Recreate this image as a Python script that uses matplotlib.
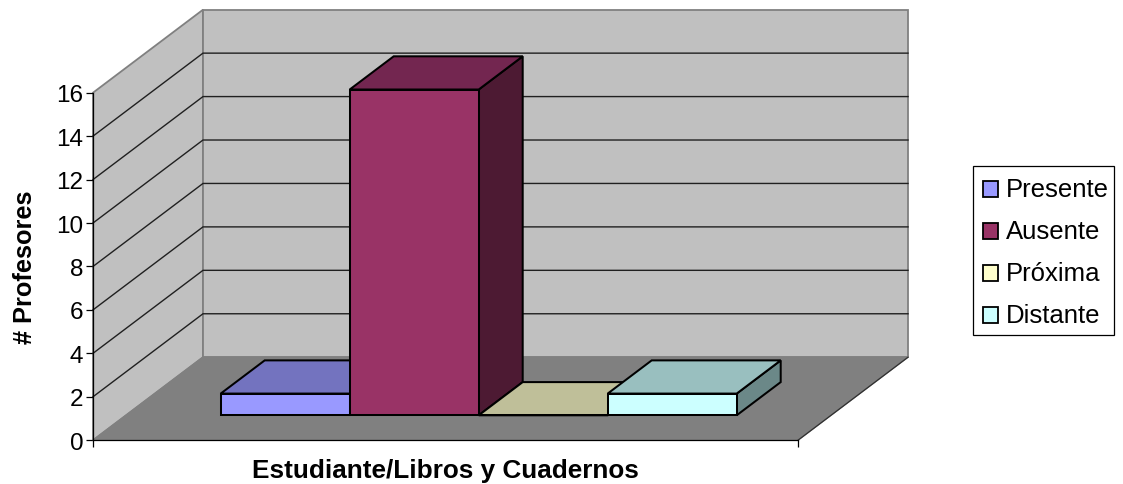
import matplotlib
matplotlib.use("Agg")
import matplotlib.pyplot as plt
from matplotlib.legend_handler import HandlerPatch
from matplotlib.patches import Polygon, Patch, Rectangle
from matplotlib.transforms import Affine2D

plt.rcParams['font.family'] = ['Liberation Sans', 'DejaVu Sans']

# Data
series_names = ["Presente", "Ausente", "Próxima", "Distante"]
series_values = [1, 15, 0, 1]
front_colors = ["#9999FF", "#993366", "#FFFFCC", "#CCFFFF"]
top_colors = ["#7373BF", "#732650", "#BFBF99", "#99BFBF"]
side_colors = ["#4D4D80", "#4D1A33", "#808066", "#6B8888"]
y_ticks = [0, 2, 4, 6, 8, 10, 12, 14, 16]
x_label = "Estudiante/Libros y Cuadernos"
y_label = "# Profesores"

# Figure and the front plane of the 3-D box
W, H = 1123, 485
fig = plt.figure(figsize=(W / 100, H / 100), dpi=100, facecolor="white")
left, right, top, bottom = 93.0, 798.0, 93.7, 441.2
ax = fig.add_axes([left / W, 1 - bottom / H, (right - left) / W, (bottom - top) / H])
ax.patch.set_visible(False)

# Category axis runs in bar-width units
bar_px = 129.0
x_max = (right - left) / bar_px
ax.set_xlim(0, x_max)
ax.set_ylim(0, 16)

# Depth of the box, expressed in data units
depth_x = 110 / (right - left) * x_max
depth_y = 83 / (bottom - top) * 16


def project(x, y, d):
    """Map a point at depth d (0 front, 1 back) onto the front-plane axes."""
    return (x + d * depth_x, y + d * depth_y)


def face(points, color, edge, lw, z):
    ax.add_patch(Polygon([project(*p) for p in points], closed=True, facecolor=color,
                         edgecolor=edge, linewidth=lw, clip_on=False, zorder=z,
                         joinstyle="miter"))


# Walls and floor
wall = "#C0C0C0"
wall_edge = "#808080"
face([(0, 0, 0), (0, 16, 0), (0, 16, 1), (0, 0, 1)], wall, wall_edge, 1.3, 1)
face([(0, 0, 1), (0, 16, 1), (x_max, 16, 1), (x_max, 0, 1)], wall, wall_edge, 1.3, 1)
for v in y_ticks[1:-1]:
    ax.plot(*zip(project(0, v, 0), project(0, v, 1), project(x_max, v, 1)),
            color="#202020", lw=1.0, clip_on=False, zorder=2, solid_joinstyle="miter")
face([(0, 0, 0), (x_max, 0, 0), (x_max, 0, 1), (0, 0, 1)], "#808080", "#808080", 1.0, 3)
ax.plot(*zip(project(x_max, 0, 0), project(x_max, 0, 1)),
        color="#303030", lw=0.9, clip_on=False, zorder=3)

# Bars, drawn left to right so that each one sits over its neighbour's side
bar_start = 94.7 / bar_px
bar_d0, bar_d1 = 0.30, 0.70
for i, value in enumerate(series_values):
    x0, x1 = bar_start + i, bar_start + 1 + i
    z = 4 + i
    lw = 1.45
    face([(x1, 0, bar_d0), (x1, value, bar_d0), (x1, value, bar_d1), (x1, 0, bar_d1)],
         side_colors[i], "black", lw, z)
    face([(x0, value, bar_d0), (x1, value, bar_d0), (x1, value, bar_d1), (x0, value, bar_d1)],
         top_colors[i], "black", lw, z)
    face([(x0, 0, bar_d0), (x1, 0, bar_d0), (x1, value, bar_d0), (x0, value, bar_d0)],
         front_colors[i], "black", lw, z)

# Axes
for name in ("top", "right"):
    ax.spines[name].set_visible(False)
for name in ("left", "bottom"):
    ax.spines[name].set_linewidth(0.9)
    ax.spines[name].set_zorder(12)
ax.set_xticks([0, x_max])
ax.set_xticklabels([])
ax.set_yticks(y_ticks)
ax.tick_params(axis="both", length=5, width=0.9, labelsize=17.5, pad=2, color="black")
ax.set_xlabel(x_label, fontsize=18.8, fontweight="bold", labelpad=6)
ax.set_ylabel(y_label, fontsize=18.3, fontweight="bold", labelpad=14)

# Legend frame, with its entries laid over it
to_px = Affine2D().scale(1, -1).translate(0, H)
fig.add_artist(Rectangle((972.7, 167), 1114 - 972.7, 335.7 - 167, transform=to_px,
                         facecolor="white", edgecolor="black", linewidth=0.9))


def low_square(legend, orig_handle, xdescent, ydescent, width, height, fontsize):
    # Swatches sit slightly under the text's centre line
    return Rectangle((-xdescent, -ydescent - 1.8), width, height)


handles = [Patch(facecolor=c, edgecolor="black", linewidth=1.3) for c in front_colors]
leg = fig.legend(handles, series_names, loc="upper left",
                 bbox_to_anchor=(983 / W, 1 - 178 / H), bbox_transform=fig.transFigure,
                 fontsize=18.5, frameon=False,
                 handler_map={Patch: HandlerPatch(patch_func=low_square)},
                 handlelength=0.58, handleheight=0.58, handletextpad=0.3,
                 labelspacing=0.70, borderpad=0, borderaxespad=0)

fig.savefig("out.png", dpi=100, facecolor="white")
